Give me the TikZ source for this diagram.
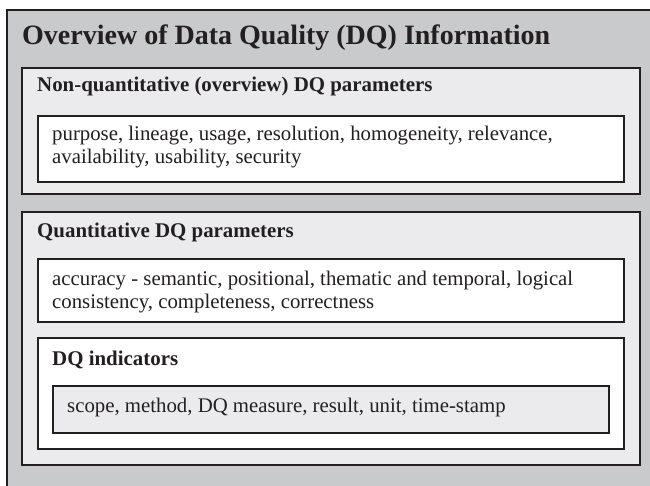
\documentclass[tikz,border=0pt]{standalone}
\usepackage{fontspec}
\setmainfont{Liberation Serif}
\definecolor{outergrey}{RGB}{201,202,204}
\definecolor{panelgrey}{RGB}{235,235,237}
\definecolor{edge}{RGB}{35,31,32}
\tikzset{
  frame/.style={draw=edge, line width=1.3pt, inner sep=0pt, outer sep=0pt, anchor=north west},
  titletext/.style={anchor=base west, inner sep=0pt, text=edge, font=\fontsize{28}{32}\selectfont\bfseries},
  headtext/.style={anchor=base west, inner sep=0pt, text=edge, font=\fontsize{20.9}{23}\selectfont\bfseries},
  % multi-line text: the base anchor sits on the last line
  bodytext/.style={anchor=base west, inner sep=0pt, text=edge, align=left, font=\fontsize{20.8}{23}\selectfont},
}
\begin{document}
\begin{tikzpicture}[x=1pt, y=-1pt]
  \useasboundingbox (0,0) rectangle (650,486);
  \clip (0,0) rectangle (650,486);
  \fill[white] (0,0) rectangle (650,486);

  % outer frame, running past the right and bottom edges
  \node[frame, fill=outergrey, line width=1.6pt, minimum width=670pt, minimum height=500pt] (outer) at (7,10) {};
  \node[titletext] (title) at (22,45) {Overview of Data Quality (DQ) Information};

  % non-quantitative parameters
  \node[frame, fill=panelgrey, minimum width=618pt, minimum height=126pt] (nonquant) at (22,68) {};
  \node[headtext] (nonquanthead) at (37,92) {Non-quantitative (overview) DQ parameters};
  \node[frame, fill=white, minimum width=586pt, minimum height=66pt] (nonquantlist) at (38,116) {};
  \node[bodytext] (nonquanttext) at (52,164) {purpose, lineage, usage, resolution, homogeneity, relevance,\\availability, usability, security};

  % quantitative parameters
  \node[frame, fill=panelgrey, minimum width=618pt, minimum height=253pt] (quant) at (22,212) {};
  \node[headtext] (quanthead) at (37,237) {Quantitative DQ parameters};
  \node[frame, fill=white, minimum width=586pt, minimum height=63pt] (quantlist) at (38,259) {};
  \node[bodytext] (quanttext) at (52,308) {accuracy - semantic, positional, thematic and temporal, logical\\consistency, completeness, correctness};

  % DQ indicators
  \node[frame, fill=white, minimum width=586pt, minimum height=111pt] (indicators) at (38,338) {};
  \node[headtext] (indhead) at (52,365) {DQ indicators};
  \node[frame, fill=panelgrey, minimum width=556pt, minimum height=47pt] (indlist) at (53,386) {};
  \node[bodytext] (indtext) at (67,412) {scope, method, DQ measure, result, unit, time-stamp};
\end{tikzpicture}
\end{document}
